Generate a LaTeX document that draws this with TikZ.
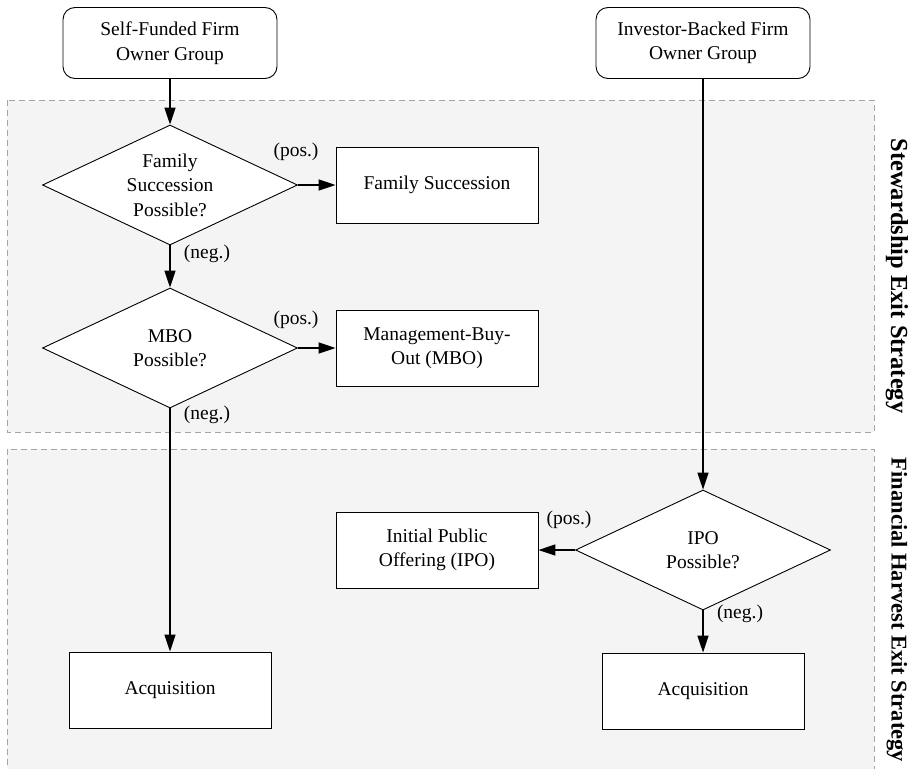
\documentclass[tikz,border=0pt]{standalone}
\usepackage{fontspec}
\setmainfont{Liberation Serif}
\usetikzlibrary{shapes.geometric,arrows.meta}
\definecolor{regionfill}{RGB}{244,244,244}
\definecolor{regiondash}{RGB}{165,165,165}
\tikzset{
  txt/.style={font=\fontsize{19.5}{24.5}\selectfont, align=center},
  startbox/.style={txt, draw, fill=white, line width=0.9pt, rounded corners=12pt, minimum width=214pt, minimum height=71pt, inner sep=0pt},
  outbox/.style={txt, draw, fill=white, line width=0.9pt, minimum width=202pt, minimum height=76pt, inner sep=0pt},
  decide/.style={txt, draw, fill=white, line width=0.9pt, diamond, aspect=2.125, minimum width=255pt, minimum height=120pt, inner sep=0pt},
  flow/.style={line width=1.4pt, -{Triangle[length=17pt,width=11pt]}},
  region/.style={draw=regiondash, line width=0.9pt, dash pattern=on 6pt off 4pt},
  lbl/.style={font=\fontsize{19.5}{24.5}\selectfont, inner sep=0pt},
  sidelbl/.style={font=\fontsize{22.5}{27}\selectfont\bfseries, rotate=-90, inner sep=0pt}
}
\begin{document}
\begin{tikzpicture}[x=1pt,y=-1pt]
\useasboundingbox (0,0) rectangle (909,768);
% regions
\fill[regionfill] (7,100) rectangle (874,432);
\draw[region] (7,100) rectangle (874,432);
\fill[regionfill] (7,449) rectangle (874,775);
\draw[region] (7,775) -- (7,449) -- (874,449) -- (874,775);
% nodes
\node[startbox] (sf) at (170,43) {Self-Funded Firm\\Owner Group};
\node[startbox] (ib) at (703,43) {Investor-Backed Firm\\Owner Group};
\node[decide] (d1) at (170,185) {Family\\Succession\\Possible?};
\node[outbox] (fs) at (437,185) {Family Succession};
\node[decide] (d2) at (170,348) {MBO\\Possible?};
\node[outbox] (mbo) at (437,348) {Management-Buy-\\Out (MBO)};
\node[decide] (d3) at (703,550) {IPO\\Possible?};
\node[outbox] (ipo) at (437,550) {Initial Public\\Offering (IPO)};
\node[outbox] (acq1) at (170,690) {Acquisition};
\node[outbox] (acq2) at (703,691) {Acquisition};
% connectors
\draw[flow] (sf.south) -- (d1.north);
\draw[flow] (d1.east) -- (fs.west);
\draw[flow] (d1.south) -- (d2.north);
\draw[flow] (d2.east) -- (mbo.west);
\draw[flow] (d2.south) -- (acq1.north);
\draw[flow] (ib.south) -- (d3.north);
\draw[flow] (d3.west) -- (ipo.east);
\draw[flow] (d3.south) -- (acq2.north);
% branch labels
\node[lbl] (p1) at (296,152) {(pos.)};
\node[lbl] (n1) at (207,254) {(neg.)};
\node[lbl] (p2) at (296,320) {(pos.)};
\node[lbl] (n2) at (207,415) {(neg.)};
\node[lbl] (p3) at (569,520) {(pos.)};
\node[lbl] (n3) at (740,614) {(neg.)};
% side labels
\node[sidelbl, font=\fontsize{24.5}{29}\selectfont\bfseries] (s1) at (897,276) {Stewardship Exit Strategy};
\node[sidelbl] (s2) at (897,610) {Financial Harvest Exit Strategy};
\end{tikzpicture}
\end{document}
